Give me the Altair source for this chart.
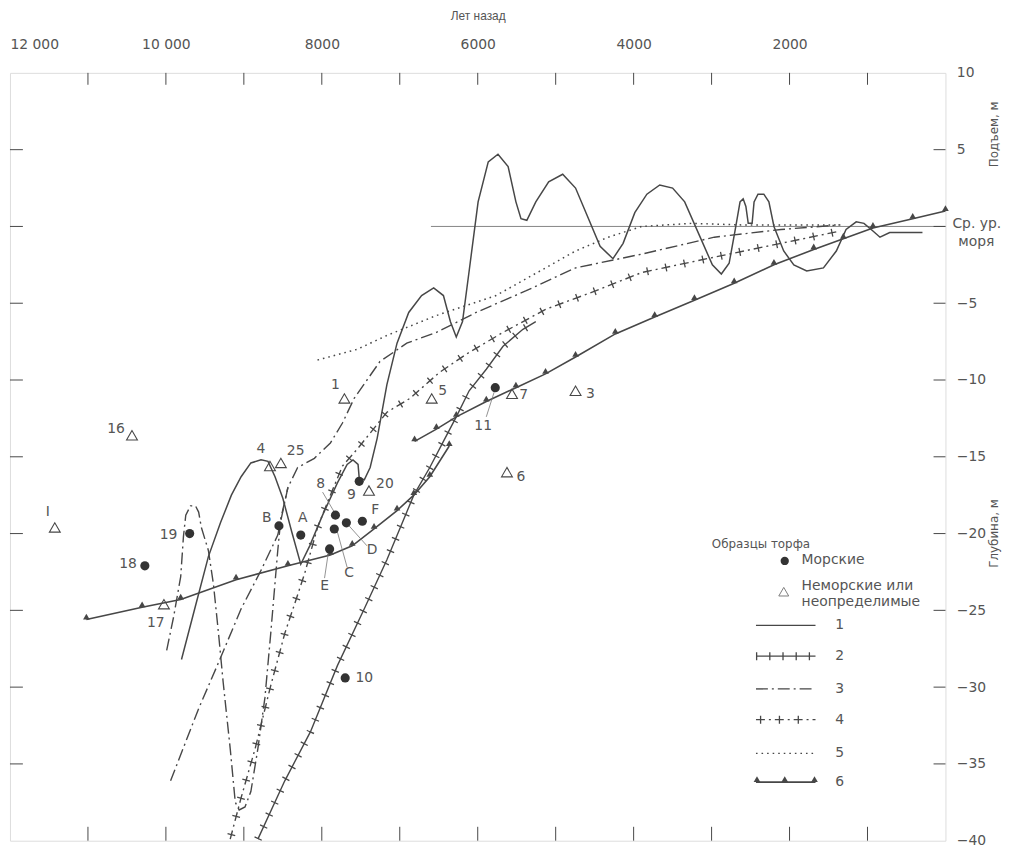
import altair as alt
import pandas as pd

INK = '#474747'
TXT = '#555555'
FONT = 'DejaVu Sans'
W, H = 943, 774

# ---------------- data (years BP, metres relative to mean sea level) ----------------
c1 = [(9800,-28.2),(9620,-24.7),(9455,-21.5),(9300,-19.3),(9160,-17.5),(9035,-16.3),(8910,-15.4),
      (8780,-15.2),(8690,-15.3),(8600,-16.3),(8500,-17.7),(8385,-19.9),(8270,-22.0),(8155,-20.8),
      (7990,-18.8),(7800,-16.7),(7675,-15.5),(7600,-15.2),(7535,-15.5),(7520,-16.4),(7455,-16.5),
      (7380,-15.7),(7290,-13.8),(7165,-10.3),(7035,-7.6),(6885,-5.6),(6720,-4.5),(6565,-4.0),
      (6440,-4.5),(6350,-6.2),(6275,-7.2),(6195,-6.2),(6110,-2.9),(5995,1.6),(5865,4.2),(5740,4.7),
      (5610,3.9),(5510,1.6),(5445,0.5),(5370,0.4),(5255,1.6),(5090,2.9),(4910,3.4),(4745,2.5),
      (4595,0.7),(4430,-1.3),(4265,-2.1),(4135,-1.1),(3985,0.9),(3830,2.1),(3665,2.7),(3500,2.5),
      (3345,1.6),(3155,-0.6),(2990,-2.5),(2875,-3.1),(2775,-2.4),(2700,-0.3),(2635,1.6),(2595,1.8),
      (2560,1.3),(2530,0.2),(2480,0.2),(2455,1.6),(2405,2.1),(2330,2.1),(2265,1.6),(2200,0.0),
      (2075,-1.6),(1945,-2.5),(1780,-2.9),(1565,-2.7),(1400,-1.6),(1275,-0.2),(1145,0.3),(1045,0.2),
      (930,-0.3),(840,-0.7),(715,-0.4),(545,-0.4),(295,-0.4)]
c2 = [(8820,-39.9),(8475,-36.1),(8145,-32.9),(7800,-28.6),(7455,-24.9),(7165,-21.7),(6820,-17.5),
      (6615,-15.7),(6440,-14.0),(6275,-12.4),(6110,-10.7),(5890,-9.3),(5675,-7.8),(5420,-6.7),
      (5255,-6.2)]
c3a = [(9940,-36.1),(9580,-31.4),(9325,-28.4),(9035,-24.9),(8780,-22.4),(8565,-20.1),(8435,-17.0),
       (8310,-15.7),(8095,-15.1),(7890,-14.1),(7735,-12.8),(7585,-11.2),(7255,-8.8),(6910,-7.6),
       (6530,-6.9),(6020,-5.6),(5385,-4.2),(4745,-2.7),(3895,-1.8),(2965,-0.7),(2110,-0.2),(1350,0.1)]
c3b = [(9990,-27.6),(9900,-25.4),(9810,-22.8),(9775,-20.2),(9745,-18.8),(9685,-18.2),(9620,-18.2),
       (9580,-18.6),(9545,-19.6),(9455,-21.1),(9390,-23.3),(9325,-26.5),(9265,-29.7),(9175,-34.0),
       (9110,-37.5),(9060,-38.0),(8985,-37.8),(8910,-36.8),(8820,-34.0),(8730,-30.7),(8655,-26.5),
       (8565,-21.1),(8525,-19.0),(8435,-17.0)]
c4 = [(9175,-39.9),(9035,-37.2),(8855,-34.0),(8655,-29.9),(8475,-26.5),(8350,-24.6),(8220,-22.6),
      (8055,-19.6),(7890,-17.5),(7735,-15.6),(7545,-14.5),(7165,-12.1),(6870,-11.2),(6490,-9.5),
      (6110,-8.2),(5675,-6.9),(5130,-5.4),(4490,-4.2),(3895,-3.0),(2965,-2.0),(2110,-1.1),(1350,-0.3)]
c5 = [(8055,-8.7),(7545,-8.0),(7165,-7.1),(6530,-5.8),(5765,-4.5),(5130,-2.7),(4745,-1.6),
      (4325,-0.7),(3895,0.0),(3260,0.2),(2620,0.1),(1350,0.1)]
c6_lower = [(11020,-25.6),(10305,-24.8),(9810,-24.3),(9100,-23.0),(8435,-22.1),(7890,-21.4),
            (7610,-20.8),(7330,-19.7),(7035,-18.5),(6820,-17.5),(6615,-16.3),(6365,-14.3)]
c6_upper = [(6810,-14.0),(6530,-13.2),(6275,-12.4),(5890,-11.4),(5510,-10.5),(5130,-9.6),
            (4745,-8.5),(4235,-7.0),(3730,-5.9),(3220,-4.8),(2710,-3.7),(2200,-2.5),(1690,-1.5),
            (1310,-0.8),(930,-0.1),(420,0.5),(0,1.0)]

marine_id = ['18', '19', 'B', 'A', '8', 'C', 'D', 'F', 'E', '9', '11', '10']
marine_year = [10270, 9695, 8550, 8270, 7825, 7840, 7685, 7480, 7900, 7520, 5775, 7700]
marine_m = [-22.1, -20.0, -19.5, -20.1, -18.8, -19.7, -19.3, -19.2, -21.0, -16.6, -10.5, -29.4]

fresh_id = ['I', '16', '4', '25', '17', '1', '5', '20', '7', '3', '6']
fresh_year = [11425, 10435, 8665, 8525, 10025, 7710, 6590, 7395, 5560, 4745, 5625]
fresh_m = [-19.6, -13.6, -15.6, -15.4, -24.6, -11.2, -11.2, -17.2, -10.9, -10.7, -16.0]

lab_text = ['I', '16', '4', '25', '19', '18', '17', 'B', 'A', '8', 'D', 'C', 'E', 'F', '9', '20',
            '1', '5', '11', '7', '3', '6', '10']
lab_year = [11515, 10640, 8780, 8335, 9965, 10485, 10130, 8705, 8245, 8015, 7355, 7650, 7965, 7315,
            7620, 7190, 7825, 6450, 5930, 5410, 4555, 5445, 7455]
lab_m = [-18.6, -13.2, -14.5, -14.6, -20.1, -22.0, -25.8, -19.0, -19.0, -16.8, -21.1, -22.6, -23.4,
         -18.5, -17.5, -16.8, -10.3, -10.7, -13.0, -11.0, -10.9, -16.3, -29.4]

leader = [(7990, -17.3, 7840, -18.6), (7800, -19.9, 7675, -22.2), (7650, -19.5, 7420, -20.8),
          (7915, -21.2, 7965, -22.9), (5890, -12.4, 5790, -10.8)]

year_ticks = list(range(1000, 12000, 1000))
m_ticks = list(range(-35, 10, 5))


def curve_df(name, pts):
    return pd.DataFrame({'curve': name, 'year': [p[0] for p in pts], 'm': [p[1] for p in pts],
                         'i': list(range(len(pts)))})


xs = alt.Scale(domain=[12000, 0], nice=False, zero=False)
ys = alt.Scale(domain=[-40, 10], nice=False, zero=False)
XAX = alt.Axis(
    orient='top', values=list(range(0, 12001, 1000)), title='Лет назад', domain=False, ticks=False,
    grid=False, labelFlush=True, labelPadding=22, labelFontSize=14, labelColor=TXT, labelFont=FONT,
    titleFont='Liberation Sans', titleFontSize=12, titleFontWeight='normal', titleColor=TXT,
    titlePadding=15,
    labelExpr="datum.value == 12000 ? '12 000' : datum.value == 10000 ? '10 000' : "
              "(datum.value % 2000 == 0 && datum.value > 0 ? '' + datum.value : '')")
YAX = alt.Axis(
    orient='right', values=list(range(-40, 11, 5)), title=None, domain=False, ticks=False,
    grid=False, labelPadding=11, labelAlign='left', labelFontSize=14, labelColor=TXT,
    labelFont=FONT, labelExpr="datum.value == 0 ? '' : datum.label")
X = alt.X('year:Q', scale=xs, axis=XAX)
Y = alt.Y('m:Q', scale=ys, axis=YAX)


def line(pts, name, **kw):
    return alt.Chart(curve_df(name, pts)).mark_line(color=INK, **kw).encode(x=X, y=Y, order='i:Q')


axis_df = pd.DataFrame({'year': [12000, 0], 'm': [-40, 10]})
frame = alt.Chart(axis_df).mark_point(opacity=0).encode(x=X, y=Y)

yt = pd.DataFrame({'year': year_ticks})
mt = pd.DataFrame({'m': m_ticks})
top_ticks = alt.Chart(yt).mark_rule(color=INK, strokeWidth=1).encode(
    x=X, y=alt.value(0), y2=alt.value(12))
bot_ticks = alt.Chart(yt).mark_rule(color=INK, strokeWidth=1).encode(
    x=X, y=alt.value(H - 14), y2=alt.value(H))
left_ticks = alt.Chart(mt).mark_rule(color=INK, strokeWidth=1).encode(
    y=Y, x=alt.value(0), x2=alt.value(13))
right_ticks = alt.Chart(mt).mark_rule(color=INK, strokeWidth=1).encode(
    y=Y, x=alt.value(W - 12), x2=alt.value(W))

zero_line = alt.Chart(pd.DataFrame({'year': [6600], 'year2': [0], 'm': [0]})).mark_rule(
    color='#777', strokeWidth=0.9).encode(x=X, x2='year2:Q', y=Y)

l1 = line(c1, 'c1', strokeWidth=1.5)
l2 = line(c2, 'c2', strokeWidth=1.4)
l2t = line(c2, 'c2t', strokeWidth=8, strokeDash=[1.3, 12], strokeCap='butt')
l3a = line(c3a, 'c3a', strokeWidth=1.4, strokeDash=[12, 4, 2, 4])
l3b = line(c3b, 'c3b', strokeWidth=1.4, strokeDash=[12, 4, 2, 4])
l4 = line(c4, 'c4', strokeWidth=1.4, strokeDash=[9, 4, 2, 4])
l4t = line(c4, 'c4t', strokeWidth=8, strokeDash=[1.3, 17.7], strokeDashOffset=-4, strokeCap='butt')
l5 = line(c5, 'c5', strokeWidth=1.5, strokeDash=[1.6, 4])
l6a = line(c6_lower, 'c6a', strokeWidth=1.6)
l6b = line(c6_upper, 'c6b', strokeWidth=1.6)
tri6 = alt.Chart(pd.concat([curve_df('a', c6_lower), curve_df('b', c6_upper)])).mark_point(
    shape='triangle-up', filled=True, size=45, color=INK, opacity=1, yOffset=-3).encode(x=X, y=Y)

marine = alt.Chart(pd.DataFrame({'id': marine_id, 'year': marine_year, 'm': marine_m})).mark_circle(
    size=85, color='#333333', opacity=1).encode(x=X, y=Y)
fresh = alt.Chart(pd.DataFrame({'id': fresh_id, 'year': fresh_year, 'm': fresh_m})).mark_point(
    shape='triangle-up', filled=False, size=120, strokeWidth=1.1, color=INK, opacity=1).encode(x=X, y=Y)
labels = alt.Chart(pd.DataFrame({'t': lab_text, 'year': lab_year, 'm': lab_m})).mark_text(
    font=FONT, fontSize=14, color=TXT).encode(x=X, y=Y, text='t:N')
leaders = alt.Chart(pd.DataFrame({'year': [a[0] for a in leader], 'm': [a[1] for a in leader],
                                  'year2': [a[2] for a in leader], 'm2': [a[3] for a in leader]})
                    ).mark_rule(color='#777', strokeWidth=0.8).encode(x=X, y=Y, x2='year2:Q', y2='m2:Q')

# right-hand texts
sea = alt.Chart(pd.DataFrame({'m': [0]})).mark_text(
    font=FONT, fontSize=14, color=TXT, align='left', dy=-2, text='Ср. ур.').encode(
    y=Y, x=alt.value(W + 7))
sea2 = alt.Chart(pd.DataFrame({'m': [0]})).mark_text(
    font=FONT, fontSize=14, color=TXT, align='left', dy=16, text='моря').encode(
    y=Y, x=alt.value(W + 13))
up_t = alt.Chart(pd.DataFrame({'m': [6.0]})).mark_text(
    font=FONT, fontSize=12, color=TXT, angle=270, text='Подъем, м').encode(y=Y, x=alt.value(W + 49))
dn_t = alt.Chart(pd.DataFrame({'m': [-20.0]})).mark_text(
    font=FONT, fontSize=12, color=TXT, angle=270, text='Глубина, м').encode(y=Y, x=alt.value(W + 49))

# legend (layout in pixels)
leg = []
one = pd.DataFrame({'k': [0]})


def ltext(t, x, y, align='left', size=14):
    return alt.Chart(one).mark_text(font=FONT, fontSize=size, color=TXT, align=align, text=t).encode(
        x=alt.value(x), y=alt.value(y))


leg.append(ltext('Образцы торфа', 757, 475, align='center', size=12))
leg.append(alt.Chart(one).mark_circle(size=70, color='#333333', opacity=1).encode(
    x=alt.value(781), y=alt.value(492)))
leg.append(ltext('Морские', 798, 491))
leg.append(alt.Chart(one).mark_point(shape='triangle-up', size=100, color=INK, strokeWidth=1).encode(
    x=alt.value(780), y=alt.value(523)))
leg.append(ltext('Неморские или', 798, 517))
leg.append(ltext('неопределимые', 798, 533))
rows = [557, 588, 621, 652, 686, 715]
styles = [dict(), dict(), dict(strokeDash=[12, 4, 2, 4]), dict(strokeDash=[9, 4, 2, 4]),
          dict(strokeDash=[1.6, 4]), dict(strokeWidth=1.6)]
for k, (yy, st) in enumerate(zip(rows, styles)):
    sw = st.pop('strokeWidth', 1.4)
    leg.append(alt.Chart(one).mark_rule(color=INK, strokeWidth=sw, **st).encode(
        x=alt.value(752), x2=alt.value(812), y=alt.value(yy)))
    leg.append(ltext(str(k + 1), 832, yy))
leg.append(alt.Chart(one).mark_rule(color=INK, strokeWidth=8, strokeDash=[1.3, 12], strokeCap='butt').encode(
    x=alt.value(752), x2=alt.value(813), y=alt.value(rows[1])))
leg.append(alt.Chart(one).mark_rule(color=INK, strokeWidth=8, strokeDash=[1.3, 17.7], strokeDashOffset=-4,
                                    strokeCap='butt').encode(x=alt.value(752), x2=alt.value(812), y=alt.value(rows[3])))
for px in (753, 781, 811):
    leg.append(alt.Chart(one).mark_point(shape='triangle-up', filled=True, size=45, color=INK, opacity=1).encode(
        x=alt.value(px), y=alt.value(rows[5] - 3)))

chart = alt.layer(
    frame, zero_line, top_ticks, bot_ticks, left_ticks, right_ticks,
    l5, l3a, l3b, l4, l4t, l2, l2t, l6a, l6b, tri6, l1,
    leaders, marine, fresh, labels, sea, sea2, up_t, dn_t, *leg
).properties(
    width=W, height=H,
    autosize=alt.AutoSizeParams(type='none'),
    padding={'left': 2, 'top': 62, 'right': 57, 'bottom': 8},
).configure_view(stroke=INK, strokeWidth=1.2).configure(background='white')

chart.save('out.html', embed_options={'renderer': 'svg', 'actions': False})
